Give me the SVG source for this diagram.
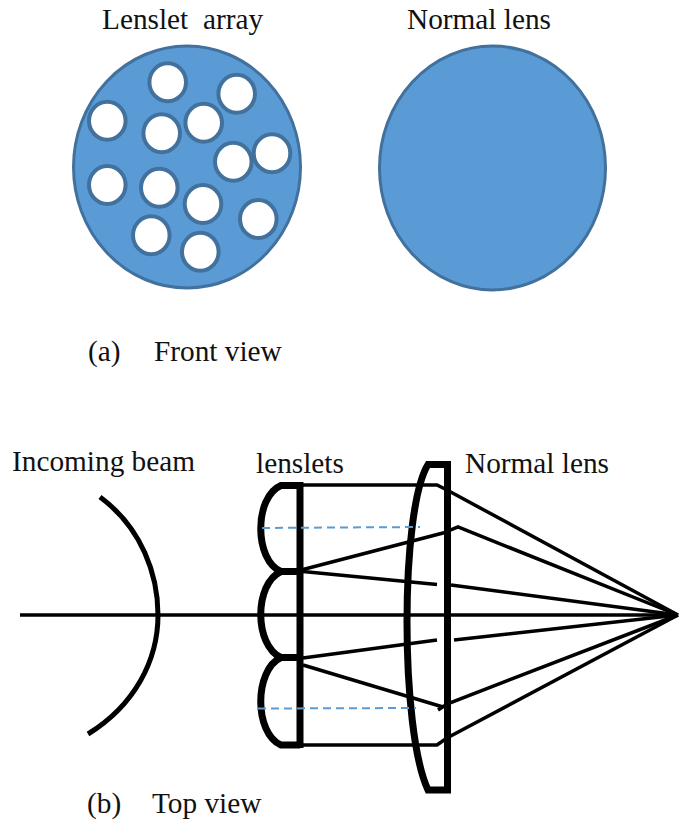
<svg xmlns="http://www.w3.org/2000/svg" width="685" height="823" viewBox="0 0 685 823">
<style>
text{font-family:"Liberation Serif","Times New Roman",serif;font-size:29.300px;fill:#111;white-space:pre}
.lens{fill:#5b9bd5;stroke:#41719c;stroke-width:3}
.hole{fill:#fff;stroke:#41719c;stroke-width:4}
.k{fill:none;stroke:#000;stroke-width:3.500;stroke-linejoin:miter}
.b{fill:none;stroke:#000;stroke-width:7}
.d{fill:none;stroke:#5b9bd5;stroke-width:2;stroke-dasharray:8 5}
</style>
<rect width="685" height="823" fill="#fff"/>
<g id="lenslet-array">
<ellipse class="lens" cx="187" cy="167" rx="113.500" ry="121"/>
<ellipse class="hole" cx="167.700" cy="82.300" rx="18.300" ry="19"/>
<ellipse class="hole" cx="236.700" cy="93.700" rx="18.300" ry="19"/>
<ellipse class="hole" cx="107.300" cy="120.700" rx="18.300" ry="19"/>
<ellipse class="hole" cx="161.700" cy="133.300" rx="18.300" ry="19"/>
<ellipse class="hole" cx="203.700" cy="122.700" rx="18.300" ry="19"/>
<ellipse class="hole" cx="233.300" cy="161.700" rx="18.300" ry="19"/>
<ellipse class="hole" cx="272" cy="153.300" rx="18.300" ry="19"/>
<ellipse class="hole" cx="107.300" cy="185" rx="18.300" ry="19"/>
<ellipse class="hole" cx="159.300" cy="187.700" rx="18.300" ry="19"/>
<ellipse class="hole" cx="203" cy="204" rx="18.300" ry="19"/>
<ellipse class="hole" cx="258.300" cy="219" rx="18.300" ry="19"/>
<ellipse class="hole" cx="151.300" cy="235.300" rx="18.300" ry="19"/>
<ellipse class="hole" cx="200.300" cy="251.700" rx="18.300" ry="19"/>
</g>
<g id="normal-lens-front"><ellipse class="lens" cx="492.500" cy="168" rx="113" ry="122"/></g>
<g id="lenslets">
<path class="b" d="M300 485.500H281C254 497 254 560 281 571.500H300M281 571.500C254 584 254 645 281 657.500H300M281 657.500C254 670 254 733 281 745H300"/>
<path class="b" d="M300 482V748"/>
</g>
<g id="normal-lens-top">
<path class="b" d="M447.500 464.500H428C400 510 400 730 428 790H447.500V461"/>
</g>
<g id="wavefront"><path class="k" style="stroke-width:5" d="M100 497C142 528 158 575 158 615C158 660 135 705 88 734"/></g>
<g id="connectors">
<path class="k" d="M20 615H678"/>
<path class="k" d="M303 485H437L447 490L678 615"/>
<path class="k" d="M303 569.500L443 533L458 527L678 615"/>
<path class="k" d="M303 571.500L437 584.500M451 585L678 615"/>
<path class="k" d="M303 658L437 640M454 640L678 615"/>
<path class="k" d="M303 665L443 707M438 710L447 704L678 615"/>
<path class="k" d="M303 745H437L447 738L678 615"/>
<path class="d" d="M262 528L420 527"/>
<path class="d" d="M258 708.500L416 708"/>
</g>
<g id="labels">
<text x="102" y="29">Lenslet  array</text>
<text x="407" y="29">Normal lens</text>
<text x="88" y="361">(a)<tspan x="154">Front view</tspan></text>
<text x="12" y="471">Incoming beam</text>
<text x="256" y="473">lenslets</text>
<text x="465" y="473">Normal lens</text>
<text x="87" y="813">(b)<tspan x="152">Top view</tspan></text>
</g>
</svg>
